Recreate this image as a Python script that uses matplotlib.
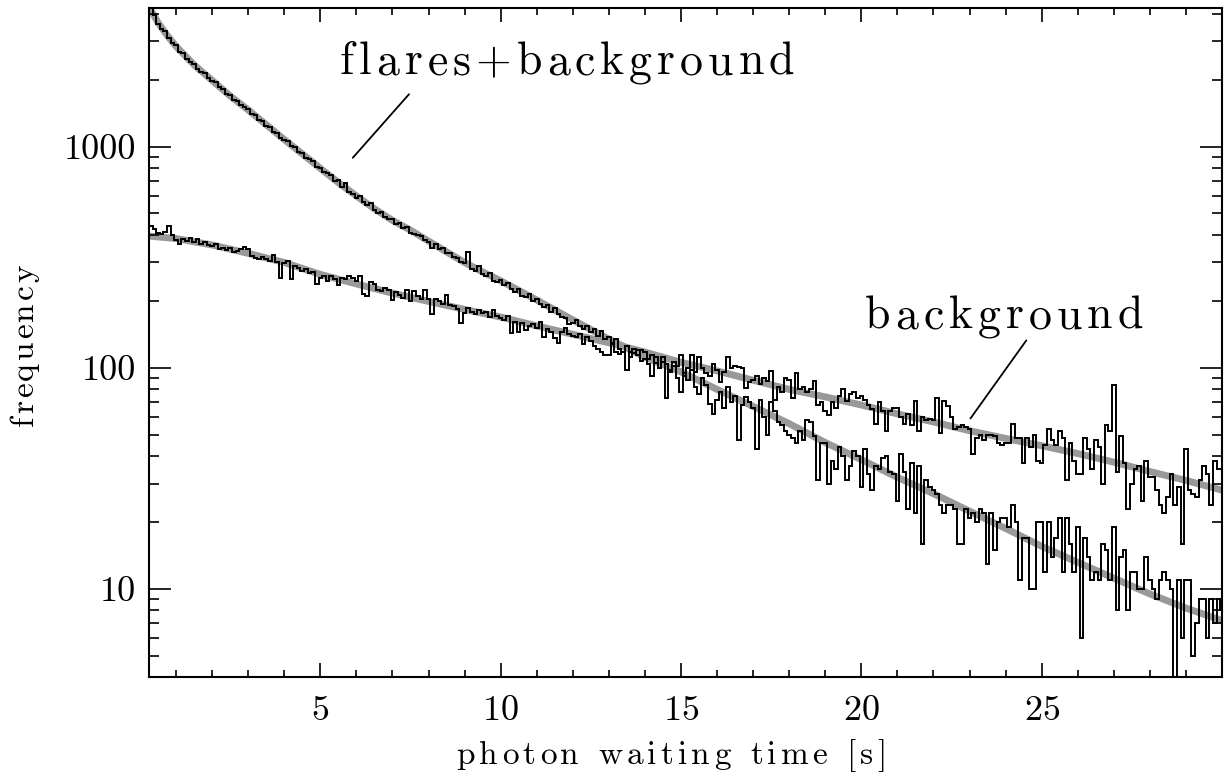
import matplotlib.pyplot as plt
import matplotlib.ticker as ticker
from matplotlib.font_manager import FontProperties
from matplotlib.textpath import TextToPath
import numpy as np

plt.rcParams['font.family'] = ['cmr10', 'DejaVu Serif']
plt.rcParams['axes.formatter.use_mathtext'] = True

# histogram binning: bin centres 0.3 ... 30.0 s
bin_width = 0.1
first_centre = 0.3

# flares+background waiting time histogram (one row per second)
flares_counts = [
    4300, 3950, 3600, 3420, 3350, 3100, 2950,
    2880, 2700, 2660, 2500, 2420, 2380, 2250, 2180, 2150, 2040,
    1990, 1960, 1860, 1830, 1740, 1720, 1630, 1610, 1540, 1520,
    1480, 1410, 1390, 1320, 1310, 1240, 1230, 1170, 1160, 1100,
    1070, 1060, 1010, 1000, 950, 940, 890, 880, 860, 810,
    805, 770, 760, 745, 700, 705, 660, 690, 625, 610,
    590, 600, 565, 545, 560, 520, 505, 510, 480, 470,
    470, 450, 455, 430, 435, 410, 405, 400, 395, 378,
    372, 350, 362, 345, 348, 330, 332, 318, 316, 300,
    298, 335, 280, 276, 290, 266, 262, 270, 248, 245,
    250, 238, 242, 228, 220, 228, 212, 210, 215, 200,
    205, 195, 188, 192, 180, 186, 175, 170, 168, 158,
    160, 165, 155, 150, 155, 146, 150, 140, 147, 135,
    138, 128, 135, 122, 118, 126, 112, 117, 120, 108,
    110, 104, 92, 112, 100, 106, 73, 96, 102, 90,
    78, 95, 88, 98, 82, 76, 90, 84, 69, 62,
    72, 78, 66, 82, 70, 75, 47, 68, 74, 70,
    66, 43, 72, 60, 50, 70, 64, 57, 55, 52,
    50, 48, 46, 52, 47, 58, 57, 49, 31, 46,
    46, 30, 38, 35, 44, 40, 31, 36, 42, 40,
    29, 43, 33, 28, 36, 35, 39, 40, 34, 33,
    25, 41, 34, 23, 37, 22, 36, 16, 31, 29,
    28, 27, 24, 22, 24, 24, 23, 16, 16, 23,
    21, 22, 20, 23, 22, 13, 22, 15, 20, 21,
    21, 19, 24, 20, 11, 17, 17, 10, 10, 20,
    20, 12, 20, 14, 17, 21, 12, 21, 16, 12,
    19, 6, 17, 14, 11, 12, 11, 16, 15, 11,
    19, 8, 14, 15, 8, 12, 12, 10, 10, 14,
    11, 10, 9, 11, 12, 11, 10, 3, 11, 6,
    11, 11, 5, 7, 9, 9, 6, 9, 7, 9,
    8,
]

# background-only waiting time histogram
background_counts = [
    440, 425, 408, 404, 412, 438, 398,
    378, 362, 384, 375, 388, 370, 382, 365, 372, 360,
    355, 362, 345, 350, 340, 348, 336, 338, 345, 352,
    345, 322, 316, 312, 318, 310, 306, 325, 300, 255,
    298, 305, 252, 288, 282, 276, 280, 268, 272, 240,
    255, 262, 248, 260, 252, 238, 256, 252, 260, 255,
    248, 262, 215, 212, 245, 240, 225, 222, 230, 225,
    202, 220, 214, 208, 225, 200, 222, 212, 205, 226,
    205, 176, 205, 200, 195, 214, 192, 190, 185, 160,
    178, 186, 180, 175, 182, 178, 180, 170, 182, 172,
    168, 164, 172, 144, 162, 146, 160, 148, 155, 158,
    152, 162, 138, 150, 145, 137, 130, 145, 152, 142,
    140, 138, 142, 128, 138, 132, 126, 122, 118, 115,
    114, 130, 118, 116, 118, 98, 118, 122, 114, 120,
    118, 110, 115, 105, 100, 112, 104, 98, 106, 102,
    115, 92, 100, 115, 96, 112, 100, 95, 92, 104,
    98, 86, 96, 112, 100, 102, 101, 100, 81, 86,
    88, 92, 85, 90, 87, 97, 72, 82, 78, 90,
    88, 73, 95, 80, 82, 78, 80, 87, 68, 70,
    64, 61, 70, 66, 75, 80, 71, 76, 78, 73,
    75, 72, 68, 65, 56, 70, 64, 52, 64, 66,
    66, 60, 56, 62, 55, 71, 52, 60, 58, 59,
    58, 73, 51, 71, 67, 60, 53, 54, 55, 54,
    53, 41, 48, 50, 47, 50, 50, 49, 46, 45,
    46, 46, 56, 48, 48, 37, 48, 44, 50, 38,
    37, 45, 53, 47, 45, 52, 48, 31, 46, 38,
    33, 33, 48, 43, 35, 47, 44, 30, 55, 52,
    84, 34, 49, 37, 23, 30, 35, 36, 25, 38,
    32, 32, 28, 24, 22, 26, 33, 24, 29, 16,
    43, 28, 27, 26, 31, 36, 33, 24, 38, 35,
    35,
]

# smooth model curves (grey)
fit_flares_t = [0.25, 0.5, 0.75, 1, 1.5, 2, 2.5, 3, 3.5, 4, 4.5, 5, 5.5, 6, 6.5,
                7, 7.5, 8, 8.5, 9, 9.5, 10, 11, 12, 13, 14, 15, 16, 17, 18, 19,
                20, 21, 22, 23, 24, 25, 26, 27, 28, 29, 30]
fit_flares = [4300, 3650, 3200, 2850, 2350, 2000, 1700, 1470, 1260, 1080, 930, 800,
              690, 600, 525, 465, 420, 375, 335, 300, 272, 248, 203, 165, 135, 112,
              96, 80, 67, 56, 46, 38.5, 32, 27, 22.5, 18.8, 15.6, 13.2, 11.2, 9.5,
              8.2, 7.2]
fit_bg_t = [0.25, 1, 2, 3, 4, 5, 6, 7, 8, 9, 10, 11, 12, 13, 14, 15, 16, 17, 18,
            19, 20, 21, 22, 23, 24, 25, 26, 27, 28, 29, 30]
fit_bg = [395, 385, 360, 330, 300, 265, 240, 218, 200, 184, 170, 155, 142, 130,
          118, 106, 97, 88, 80, 74, 68, 62, 57, 52, 48, 44.5, 41, 37.5, 34, 31, 28]

x_ticks = [5, 10, 15, 20, 25]

_t2p = TextToPath()


def _advance(s, fp):
    # width of s in points, trailing blanks included
    w_bar = _t2p.get_text_width_height_descent('|', fp, ismath=False)[0]
    return _t2p.get_text_width_height_descent(s + '|', fp, ismath=False)[0] - w_bar


def spaced_text(ax, xy, s, size, track, coords='data', align='left', vertical=False):
    # letter-spaced text, like the old IDL vector fonts
    fp = FontProperties(family='cmr10', size=size)
    offs = [_advance(s[:i], fp) + i * track for i in range(len(s))]
    total = _advance(s, fp) + (len(s) - 1) * track
    shift = total / 2 if align == 'center' else 0
    for ch, o in zip(s, offs):
        d = o - shift
        ax.annotate(ch, xy, xycoords=coords,
                    xytext=(0, d) if vertical else (d, 0), textcoords='offset points',
                    fontproperties=fp, ha='left', va='baseline',
                    rotation=90 if vertical else 0, rotation_mode='anchor',
                    annotation_clip=False)


n_bins = len(flares_counts)
edges = first_centre - bin_width / 2 + bin_width * np.arange(n_bins + 1)

fig = plt.figure(figsize=(12.26, 7.76), dpi=100)
ax = fig.add_axes([149 / 1226, 99 / 776, 1073 / 1226, 669 / 776])

grey = '0.6'
ax.plot(fit_flares_t, fit_flares, color=grey, lw=5, zorder=1)
ax.plot(fit_bg_t, fit_bg, color=grey, lw=5, zorder=1)
ax.stairs(flares_counts, edges, baseline=None, color='black', lw=1.4, zorder=2)
ax.stairs(background_counts, edges, baseline=None, color='black', lw=1.4, zorder=2)

ax.set_yscale('log')
ax.set_xlim(0.25, 30)
ax.set_ylim(4, 4250)

ax.xaxis.set_major_locator(ticker.FixedLocator(x_ticks))
ax.xaxis.set_minor_locator(ticker.MultipleLocator(1))
ax.yaxis.set_major_locator(ticker.LogLocator(base=10))
ax.yaxis.set_minor_locator(ticker.LogLocator(base=10, subs=range(2, 10)))
ax.yaxis.set_major_formatter(ticker.FuncFormatter(lambda v, p: f'{v:g}'))
ax.yaxis.set_minor_formatter(ticker.NullFormatter())

ax.tick_params(which='both', direction='in', top=True, right=True, width=1.2,
               labelsize=26, colors='black')
ax.tick_params(axis='x', which='major', length=10, pad=13)
ax.tick_params(axis='x', which='minor', length=5)
ax.tick_params(axis='y', which='major', length=16, pad=9)
ax.tick_params(axis='y', which='minor', length=7)
for s in ax.spines.values():
    s.set_linewidth(1.5)

# axis titles (positions in axes fractions)
spaced_text(ax, (0.487, -0.130), 'photon waiting time [s]', 24, 3.0,
            coords='axes fraction', align='center')
spaced_text(ax, (-0.108, 0.496), 'frequency', 24, 2.0,
            coords='axes fraction', align='center', vertical=True)

# labels with leader lines
spaced_text(ax, (5.54, 2130), 'flares+background', 33, 3.6)
ax.annotate('', xy=(5.85, 874), xytext=(7.51, 1769),
            arrowprops=dict(arrowstyle='-', color='black', lw=1.3))
spaced_text(ax, (20.1, 151), 'background', 33, 3.6)
ax.annotate('', xy=(22.98, 57.7), xytext=(24.62, 136.5),
            arrowprops=dict(arrowstyle='-', color='black', lw=1.3))

fig.savefig('out.png', dpi=100)
